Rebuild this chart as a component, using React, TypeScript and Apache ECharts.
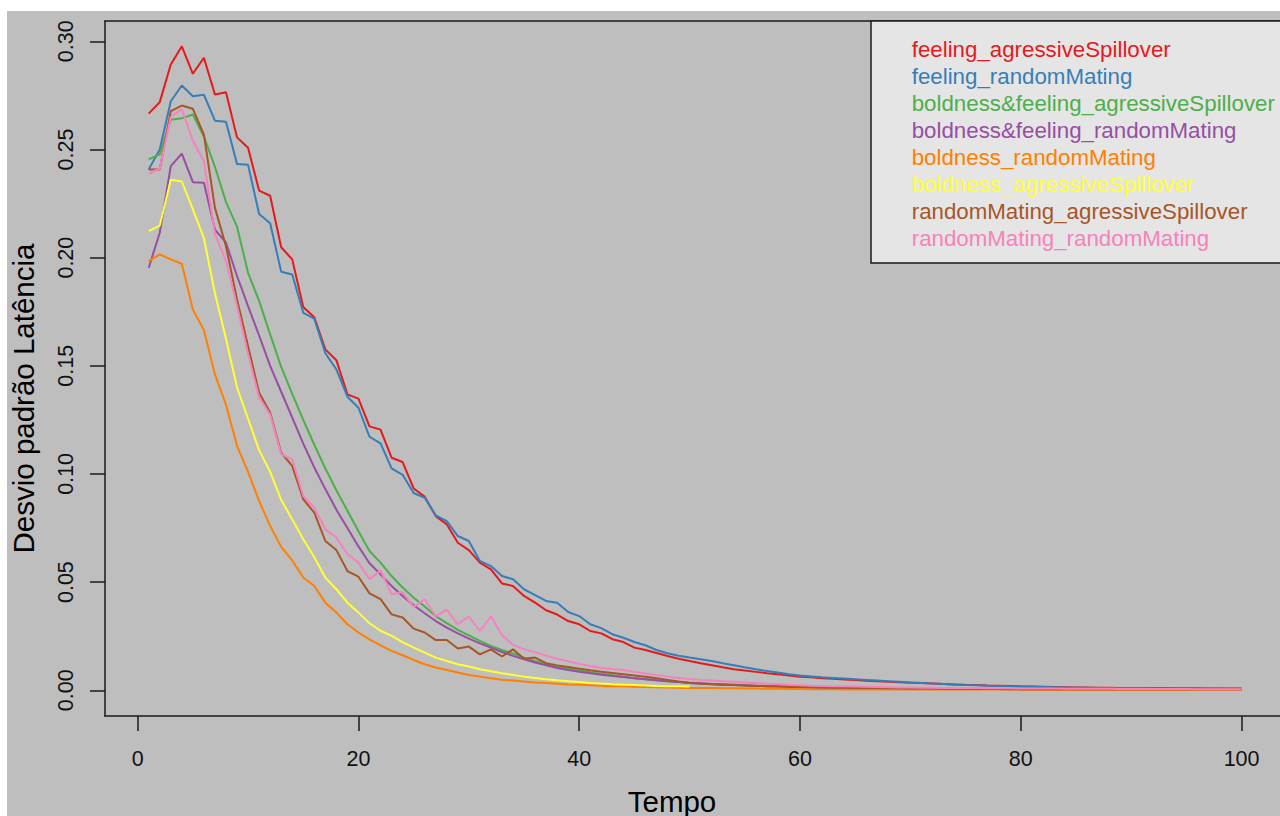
import React, { useEffect, useRef } from "react";
import * as echarts from "echarts";

const seriesNames = [
  "feeling_agressiveSpillover",
  "feeling_randomMating",
  "boldness&feeling_agressiveSpillover",
  "boldness&feeling_randomMating",
  "boldness_randomMating",
  "boldness_agressiveSpillover",
  "randomMating_agressiveSpillover",
  "randomMating_randomMating",
];
const seriesColors = ["#E41A1C", "#377EB8", "#4DAF4A", "#984EA3", "#FF7F00", "#FFFF33", "#A65628", "#F781BF"];

const xTicks = [0, 20, 40, 60, 80, 100];
const yTicks = [0, 0.05, 0.1, 0.15, 0.2, 0.25, 0.3];

const feelingAgressive = [
  0.2666, 0.2719, 0.2893, 0.2977, 0.285, 0.2924, 0.2754, 0.2765, 0.2556, 0.2508,
  0.231, 0.2286, 0.2048, 0.1992, 0.1772, 0.1724, 0.1576, 0.1526, 0.1368, 0.1348,
  0.122, 0.1205, 0.1075, 0.1055, 0.0933, 0.0895, 0.0805, 0.0767, 0.0682, 0.0648,
  0.059, 0.0559, 0.0494, 0.0482, 0.0436, 0.0405, 0.037, 0.035, 0.032, 0.0305,
  0.0274, 0.0263, 0.0236, 0.0223, 0.0197, 0.0186, 0.0172, 0.0158, 0.0146, 0.0135,
  0.0125, 0.0116, 0.0106, 0.0097, 0.0091, 0.0085, 0.0079, 0.0074, 0.0068, 0.0063,
  0.006, 0.0056, 0.0053, 0.005, 0.0047, 0.0044, 0.0042, 0.0039, 0.0037, 0.0035,
  0.0033, 0.0031, 0.0029, 0.0027, 0.0025, 0.0024, 0.0022, 0.0021, 0.002, 0.0018,
  0.0017, 0.0016, 0.0015, 0.0014, 0.0013, 0.0013, 0.0012, 0.0012, 0.0011, 0.0011,
  0.001, 0.001, 0.001, 0.0009, 0.0009, 0.0009, 0.0008, 0.0008, 0.0008, 0.0008,
];
const feelingRandom = [
  0.2408, 0.25, 0.2723, 0.2796, 0.2746, 0.2753, 0.2633, 0.2628, 0.2433, 0.2429,
  0.2202, 0.2159, 0.1935, 0.1922, 0.1745, 0.1718, 0.1558, 0.1483, 0.1357, 0.1306,
  0.1172, 0.1141, 0.1026, 0.0996, 0.0912, 0.089, 0.0809, 0.0782, 0.0713, 0.069,
  0.0598, 0.0574, 0.0528, 0.0513, 0.0467, 0.044, 0.0413, 0.0405, 0.0362, 0.0343,
  0.0305, 0.0287, 0.0259, 0.0243, 0.0223, 0.0208, 0.0186, 0.0171, 0.016, 0.0151,
  0.0143, 0.0135, 0.0125, 0.0116, 0.0106, 0.0097, 0.0089, 0.0082, 0.0074, 0.0068,
  0.0064, 0.006, 0.0057, 0.0054, 0.0051, 0.0048, 0.0045, 0.0042, 0.0039, 0.0036,
  0.0034, 0.0031, 0.0029, 0.0026, 0.0024, 0.0023, 0.0021, 0.002, 0.0018, 0.0017,
  0.0016, 0.0015, 0.0014, 0.0013, 0.0012, 0.0012, 0.0011, 0.0011, 0.001, 0.001,
  0.001, 0.0009, 0.0009, 0.0009, 0.0008, 0.0008, 0.0008, 0.0008, 0.0007, 0.0007,
];
const boldFeelAgressive = [
  0.2454, 0.2477, 0.2638, 0.2644, 0.2662, 0.256, 0.242, 0.2257, 0.2143, 0.193,
  0.18, 0.1645, 0.1495, 0.137, 0.125, 0.1135, 0.1025, 0.0925, 0.083, 0.0735,
  0.0644, 0.059, 0.0528, 0.0475, 0.0428, 0.0387, 0.0343, 0.031, 0.0279, 0.0254,
  0.0228, 0.0205, 0.0186, 0.017, 0.0151, 0.0135, 0.0122, 0.011, 0.01, 0.0092,
  0.0083, 0.0076, 0.0069, 0.0062, 0.0056, 0.0051, 0.0046, 0.0042, 0.0038, 0.0034,
  0.0032, 0.0029, 0.0027, 0.0024, 0.0022, 0.002, 0.0019, 0.0017, 0.0016, 0.0015,
  0.0014, 0.0013, 0.0012, 0.0012, 0.0011, 0.001, 0.001, 0.0009, 0.0009, 0.0008,
  0.0008, 0.0007, 0.0007, 0.0007, 0.0006, 0.0006, 0.0006, 0.0006, 0.0005, 0.0005,
  0.0005, 0.0005, 0.0005, 0.0005, 0.0004, 0.0004, 0.0004, 0.0004, 0.0004, 0.0004,
  0.0004, 0.0004, 0.0004, 0.0004, 0.0004, 0.0004, 0.0004, 0.0004, 0.0004, 0.0004,
];
const boldFeelRandom = [
  0.1953, 0.2115, 0.2423, 0.2481, 0.2349, 0.2346, 0.213, 0.2069, 0.1915, 0.1776,
  0.164, 0.15, 0.138, 0.126, 0.114, 0.103, 0.093, 0.0835, 0.075, 0.0665,
  0.0587, 0.0536, 0.0482, 0.0436, 0.0393, 0.0356, 0.032, 0.029, 0.0263, 0.0239,
  0.0217, 0.0197, 0.0177, 0.0159, 0.0143, 0.0128, 0.0116, 0.0103, 0.0094, 0.0086,
  0.0079, 0.0072, 0.0066, 0.0061, 0.0056, 0.0051, 0.0046, 0.0042, 0.0038, 0.0035,
  0.0032, 0.0029, 0.0027, 0.0025, 0.0023, 0.0021, 0.0019, 0.0018, 0.0016, 0.0015,
  0.0014, 0.0013, 0.0012, 0.0012, 0.0011, 0.001, 0.001, 0.0009, 0.0009, 0.0008,
  0.0008, 0.0007, 0.0007, 0.0007, 0.0006, 0.0006, 0.0006, 0.0006, 0.0005, 0.0005,
  0.0005, 0.0005, 0.0005, 0.0005, 0.0004, 0.0004, 0.0004, 0.0004, 0.0004, 0.0004,
  0.0004, 0.0004, 0.0004, 0.0004, 0.0004, 0.0004, 0.0004, 0.0004, 0.0004, 0.0004,
];
const boldRandom = [
  0.1984, 0.2015, 0.1992, 0.1972, 0.176, 0.1665, 0.146, 0.132, 0.113, 0.101,
  0.0875, 0.076, 0.0663, 0.06, 0.0521, 0.0482, 0.0405, 0.0359, 0.0305, 0.0267,
  0.0235, 0.0208, 0.0182, 0.0162, 0.014, 0.012, 0.0105, 0.0094, 0.0082, 0.0071,
  0.0063, 0.0055, 0.0049, 0.0045, 0.004, 0.0036, 0.0033, 0.003, 0.0027, 0.0025,
  0.0023, 0.0021, 0.0019, 0.0018, 0.0016, 0.0015, 0.0014, 0.0013, 0.0012, 0.0011,
  0.001, 0.001, 0.0009, 0.0009, 0.0008, 0.0008, 0.0007, 0.0007, 0.0006, 0.0006,
  0.0005, 0.0005, 0.0005, 0.0004, 0.0004, 0.0004, 0.0004, 0.0004, 0.0003, 0.0003,
  0.0003, 0.0003, 0.0003, 0.0003, 0.0003, 0.0003, 0.0003, 0.0003, 0.0003, 0.0003,
  0.0002, 0.0002, 0.0002, 0.0002, 0.0002, 0.0002, 0.0002, 0.0002, 0.0002, 0.0002,
  0.0002, 0.0002, 0.0002, 0.0002, 0.0002, 0.0002, 0.0002, 0.0002, 0.0002, 0.0002,
];
const boldAgressive = [
  0.2123, 0.2148, 0.236, 0.2352, 0.2223, 0.209, 0.1835, 0.1625, 0.14, 0.1255,
  0.111, 0.101, 0.088, 0.079, 0.0698, 0.0615, 0.0521, 0.0467, 0.0405, 0.0359,
  0.031, 0.0275, 0.0251, 0.0223, 0.0197, 0.0174, 0.0151, 0.0135, 0.012, 0.011,
  0.0097, 0.0088, 0.0079, 0.0071, 0.0063, 0.0057, 0.0051, 0.0046, 0.0042, 0.0038,
  0.0034, 0.0031, 0.0028, 0.0026, 0.0024, 0.0022, 0.002, 0.0019, 0.0018, 0.0017,
];
const randomAgressive = [
  0.2408, 0.2408, 0.2677, 0.2703, 0.2688, 0.2569, 0.223, 0.2053, 0.1807, 0.159,
  0.1376, 0.1283, 0.1098, 0.1037, 0.0883, 0.0821, 0.069, 0.0648, 0.0551, 0.0525,
  0.0448, 0.0421, 0.0351, 0.0336, 0.0285, 0.0267, 0.0232, 0.0232, 0.0193, 0.0202,
  0.0166, 0.0189, 0.0156, 0.0189, 0.0146, 0.0151, 0.0125, 0.0115, 0.0108, 0.01,
  0.0092, 0.0086, 0.008, 0.0074, 0.0068, 0.0062, 0.0055, 0.0048, 0.004, 0.0034,
  0.003, 0.0028, 0.0026, 0.0024, 0.0022, 0.002, 0.0019, 0.0018, 0.0016, 0.0015,
  0.0014, 0.0013, 0.0012, 0.0012, 0.0011, 0.001, 0.001, 0.0009, 0.0009, 0.0008,
  0.0008, 0.0008, 0.0007, 0.0007, 0.0007, 0.0006, 0.0006, 0.0006, 0.0006, 0.0005,
  0.0005, 0.0005, 0.0005, 0.0005, 0.0005, 0.0005, 0.0005, 0.0005, 0.0005, 0.0005,
  0.0005, 0.0005, 0.0005, 0.0005, 0.0005, 0.0005, 0.0005, 0.0005, 0.0005, 0.0005,
];
const randomRandom = [
  0.2389, 0.2412, 0.265, 0.2686, 0.254, 0.2446, 0.211, 0.1984, 0.1776, 0.1555,
  0.1353, 0.1275, 0.1091, 0.1067, 0.0898, 0.0844, 0.0744, 0.0706, 0.063, 0.059,
  0.0513, 0.0553, 0.0444, 0.0454, 0.0385, 0.0421, 0.0343, 0.0373, 0.0305, 0.0341,
  0.0274, 0.0341, 0.0255, 0.021, 0.019, 0.0176, 0.016, 0.0146, 0.0134, 0.0122,
  0.0112, 0.0103, 0.0098, 0.0094, 0.0085, 0.0077, 0.007, 0.0063, 0.0057, 0.0052,
  0.0048, 0.0045, 0.0042, 0.0039, 0.0036, 0.0033, 0.003, 0.0028, 0.0025, 0.0023,
  0.0021, 0.002, 0.0019, 0.0018, 0.0017, 0.0016, 0.0015, 0.0014, 0.0013, 0.0013,
  0.0012, 0.0012, 0.0011, 0.0011, 0.001, 0.001, 0.0009, 0.0009, 0.0009, 0.0008,
  0.0008, 0.0008, 0.0008, 0.0007, 0.0007, 0.0007, 0.0007, 0.0007, 0.0006, 0.0006,
  0.0006, 0.0006, 0.0006, 0.0006, 0.0006, 0.0005, 0.0005, 0.0005, 0.0005, 0.0005,
];

const seriesValues = [
  feelingAgressive,
  feelingRandom,
  boldFeelAgressive,
  boldFeelRandom,
  boldRandom,
  boldAgressive,
  randomAgressive,
  randomRandom,
];

const FONT = "'Liberation Sans', Arial, sans-serif";
const BOX = "#1a1a1a";

export default function App() {
  const ref = useRef<HTMLDivElement>(null);

  useEffect(() => {
    document.body.style.margin = "0";
    const chart = echarts.init(ref.current!, undefined, { renderer: "svg" });

    const series = seriesNames.map((name, i) => ({
      name,
      type: "line",
      xAxisIndex: 0,
      yAxisIndex: 0,
      data: seriesValues[i].map((v, k) => [k + 1, v]),
      showSymbol: false,
      symbol: "none",
      lineStyle: { color: seriesColors[i], width: 2 },
      itemStyle: { color: seriesColors[i] },
      z: 2 + i * 0.01,
    }));

    chart.setOption({
      animation: false,
      backgroundColor: "#ffffff",
      textStyle: { fontFamily: FONT },
      graphic: [
        {
          type: "rect",
          z: -10,
          silent: true,
          shape: { x: 7, y: 11, width: 1273, height: 805 },
          style: { fill: "#BEBEBE" },
        },
        {
          type: "rect",
          z: 1,
          silent: true,
          shape: { x: 871, y: 21, width: 430, height: 242 },
          style: { fill: "#E5E5E5", stroke: BOX, lineWidth: 1.5 },
        },
      ],
      grid: {
        left: 105,
        top: 21,
        right: 0,
        height: 695,
        show: false,
        containLabel: false,
        outerBoundsMode: "none",
      },
      legend: {
        orient: "vertical",
        left: 906.7,
        top: 36.5,
        padding: 0,
        itemGap: 0,
        itemWidth: 0,
        itemHeight: 10,
        icon: "none",
        selectedMode: false,
        z: 10,
        data: seriesNames.map((name, i) => ({
          name,
          icon: "none",
          textStyle: { color: seriesColors[i], fontSize: 22.3, lineHeight: 26.9, fontFamily: FONT },
        })),
      },
      xAxis: [
        {
          type: "value",
          position: "bottom",
          min: -2.96,
          max: 103.48,
          name: "Tempo",
          nameLocation: "middle",
          nameGap: 70,
          nameTextStyle: { fontSize: 29.5, color: "#000", fontFamily: FONT, padding: [0, 41, 0, 0] },
          axisLine: { show: true, onZero: false, lineStyle: { color: BOX, width: 1.5 } },
          splitLine: { show: false },
          axisTick: {
            show: true,
            length: 15,
            customValues: xTicks,
            lineStyle: { color: BOX, width: 1.5 },
          },
          axisLabel: {
            customValues: xTicks,
            fontSize: 21.5,
            color: "#111",
            margin: 32,
            fontFamily: FONT,
          },
        },
        {
          type: "value",
          position: "top",
          min: -2.96,
          max: 103.48,
          axisLine: { show: true, onZero: false, lineStyle: { color: BOX, width: 1.5 } },
          axisTick: { show: false },
          axisLabel: { show: false },
          splitLine: { show: false },
        },
      ],
      yAxis: {
        type: "value",
        min: -0.0119,
        max: 0.3094,
        name: "Desvio padrão Latência",
        nameLocation: "middle",
        nameGap: 67,
        nameTextStyle: { fontSize: 29.5, color: "#000", fontFamily: FONT, padding: [0, 60, 0, 0] },
        axisLine: { show: true, onZero: false, lineStyle: { color: BOX, width: 1.5 } },
        splitLine: { show: false },
        axisTick: {
          show: true,
          length: 15,
          customValues: yTicks,
          lineStyle: { color: BOX, width: 1.5 },
        },
        axisLabel: {
          customValues: yTicks,
          rotate: 90,
          fontSize: 21.5,
          color: "#111",
          margin: 28,
          fontFamily: FONT,
          formatter: (v: number) => v.toFixed(2),
        },
      },
      series,
    });

    return () => chart.dispose();
  }, []);

  return (
    <div
      ref={ref}
      style={{ position: "absolute", left: 0, top: 0, width: 1280, height: 816 }}
    />
  );
}
